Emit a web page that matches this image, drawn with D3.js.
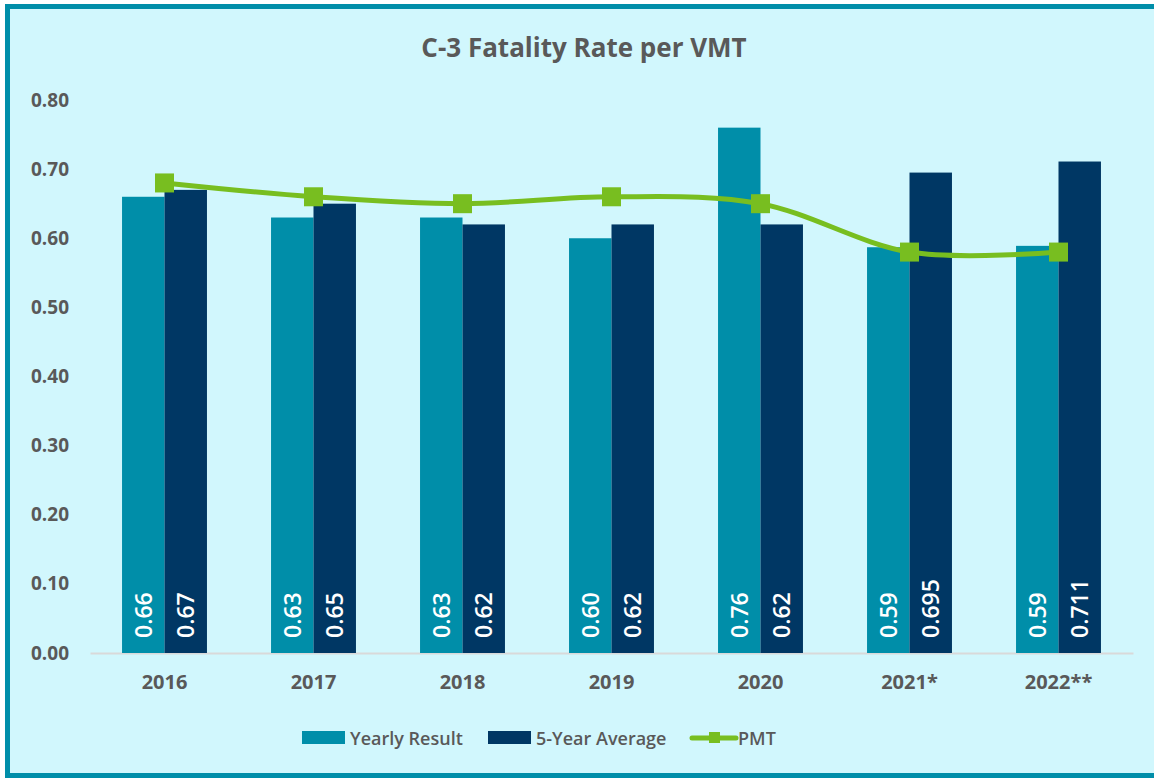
<!DOCTYPE html>
<html>
<head>
<meta charset="utf-8">
<title>C-3 Fatality Rate per VMT</title>
<script src="https://cdn.jsdelivr.net/npm/d3@7"></script>
<style>
  * { margin: 0; padding: 0; }
  body { background: #ffffff; width: 1154px; height: 778px; overflow: hidden; }
  svg { display: block; font-family: "Open Sans", sans-serif; }
</style>
</head>
<body>
<svg id="chart" width="1154" height="778"></svg>
<script>
// chart data
var years = ["2016", "2017", "2018", "2019", "2020", "2021*", "2022**"];
var yearly = [0.66, 0.63, 0.63, 0.60, 0.76, 0.587, 0.589];
var yearlyLabels = ["0.66", "0.63", "0.63", "0.60", "0.76", "0.59", "0.59"];
var fiveYear = [0.67, 0.65, 0.62, 0.62, 0.62, 0.695, 0.711];
var fiveYearLabels = ["0.67", "0.65", "0.62", "0.62", "0.62", "0.695", "0.711"];
var pmt = [0.68, 0.66, 0.65, 0.66, 0.65, 0.58, 0.58];
var yTicks = [0, 0.1, 0.2, 0.3, 0.4, 0.5, 0.6, 0.7, 0.8];

var colYearly = "#008ea9", colFive = "#003764", colPmt = "#78be20", colText = "#595959";

var svg = d3.select("#chart");

// frame
svg.append("rect").attr("x", 7.5).attr("y", 6.5).attr("width", 1160).attr("height", 769)
  .attr("fill", "#d1f7fd").attr("stroke", "#008ea9").attr("stroke-width", 5);

var plotLeft = 90, plotRight = 1133, plotTop = 100, plotBottom = 653;

var x = d3.scaleBand().domain(years).range([plotLeft, plotRight]).paddingInner(0.43).paddingOuter(0.215);
var y = d3.scaleLinear().domain([0, 0.8]).range([plotBottom, plotTop]);

// title
svg.append("text").attr("x", 584).attr("y", 57).attr("text-anchor", "middle")
  .attr("font-size", 26).attr("font-weight", "bold").attr("fill", colText)
  .text("C-3 Fatality Rate per VMT");

// y axis
var yAxis = d3.axisLeft(y).tickValues(yTicks).tickFormat(d3.format(".2f")).tickSize(0).tickPadding(21);
var gy = svg.append("g").attr("transform", "translate(" + plotLeft + ",0)").call(yAxis);
gy.select(".domain").remove();
gy.selectAll("text").attr("font-size", 19).attr("font-weight", "bold").attr("fill", colText)
  .attr("font-family", "Open Sans, sans-serif");

// x axis
var xAxis = d3.axisBottom(x).tickSize(0).tickPadding(22);
var gx = svg.append("g").attr("transform", "translate(0," + plotBottom + ")").call(xAxis);
gx.select(".domain").attr("stroke", "#d9d9d9").attr("stroke-width", 2);
gx.selectAll("text").attr("font-size", 20).attr("font-weight", "bold").attr("fill", colText)
  .attr("font-family", "Open Sans, sans-serif");

var bw = x.bandwidth() / 2;

// bars
function drawBars(vals, labels, offset, color) {
  var g = svg.append("g");
  g.selectAll("rect").data(vals).enter().append("rect")
    .attr("x", function(d, i){ return x(years[i]) + offset; })
    .attr("y", function(d){ return y(d); })
    .attr("width", bw)
    .attr("height", function(d){ return plotBottom - y(d); })
    .attr("fill", color);
  g.selectAll("text").data(labels).enter().append("text")
    .attr("transform", function(d, i){
      return "translate(" + (x(years[i]) + offset + bw / 2 + 8.5) + "," + (plotBottom - 15) + ") rotate(-90)";
    })
    .attr("font-size", 23).attr("font-weight", 600).attr("fill", "#ffffff")
    .text(function(d){ return d; });
}
drawBars(yearly, yearlyLabels, 0, colYearly);
drawBars(fiveYear, fiveYearLabels, bw, colFive);

// PMT line
var line = d3.line()
  .x(function(d, i){ return x(years[i]) + x.bandwidth() / 2; })
  .y(function(d){ return y(d); })
  .curve(d3.curveCardinal.tension(0));
svg.append("path").datum(pmt).attr("d", line).attr("fill", "none")
  .attr("stroke", colPmt).attr("stroke-width", 5).attr("stroke-linecap", "round");
svg.append("g").selectAll("rect").data(pmt).enter().append("rect")
  .attr("x", function(d, i){ return x(years[i]) + x.bandwidth() / 2 - 9.5; })
  .attr("y", function(d){ return y(d) - 9.5; })
  .attr("width", 19).attr("height", 19).attr("fill", colPmt);

// legend
var lg = svg.append("g").attr("font-size", 18).attr("font-weight", 600).attr("fill", colText);
lg.append("rect").attr("x", 302).attr("y", 731).attr("width", 43).attr("height", 13).attr("fill", colYearly);
lg.append("text").attr("x", 350).attr("y", 745).text("Yearly Result");
lg.append("rect").attr("x", 488).attr("y", 731).attr("width", 43).attr("height", 13).attr("fill", colFive);
lg.append("text").attr("x", 536).attr("y", 745).text("5-Year Average");
lg.append("line").attr("x1", 692).attr("x2", 736).attr("y1", 738).attr("y2", 738)
  .attr("stroke", colPmt).attr("stroke-width", 5).attr("stroke-linecap", "round");
lg.append("rect").attr("x", 709).attr("y", 732).attr("width", 11).attr("height", 11).attr("fill", colPmt);
lg.append("text").attr("x", 738).attr("y", 745).text("PMT");
</script>
</body>
</html>
